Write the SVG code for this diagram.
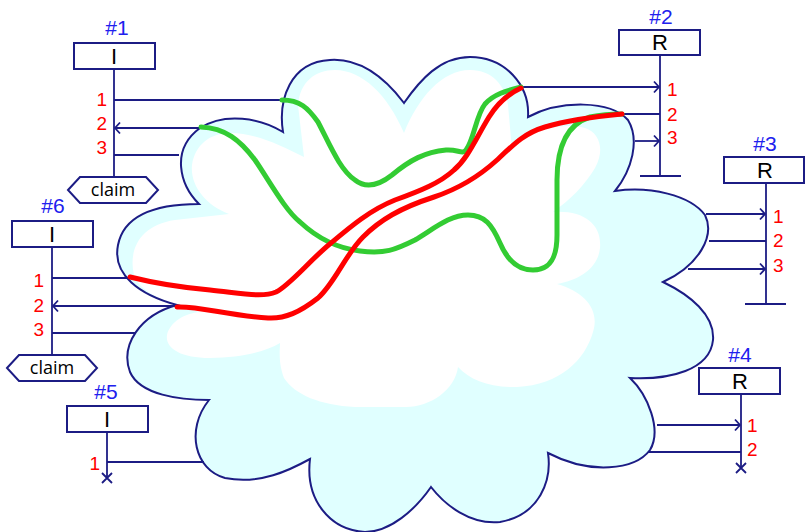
<svg xmlns="http://www.w3.org/2000/svg" width="805" height="532" viewBox="0 0 805 532">
<defs>
<style>
.ln{stroke:#1c1c84;stroke-width:1.8;fill:none}
.box{fill:#fff;stroke:#1c1c84;stroke-width:2}
.ttl{font-family:"Liberation Sans",Arial,sans-serif;font-size:21px;fill:#2020ee;text-anchor:middle}
.lt{font-family:"Liberation Sans",Arial,sans-serif;font-size:22px;fill:#000;text-anchor:middle}
.num{font-family:"Liberation Sans",Arial,sans-serif;font-size:19px;fill:#ff0000}
.cl{font-family:"Open Sans","Liberation Sans",Arial,sans-serif;font-size:18px;fill:#000;text-anchor:middle}
.red{stroke:#ff0000;stroke-width:5;fill:none;stroke-linecap:round}
.grn{stroke:#33cc33;stroke-width:5;fill:none;stroke-linecap:round}
</style>
<marker id="ar" markerUnits="userSpaceOnUse" markerWidth="12" markerHeight="14" refX="0" refY="0" viewBox="-7 -7 9 14" orient="auto" overflow="visible">
<path d="M-5,-5.5 L0,0 L-5,5.5" fill="none" stroke="#1c1c84" stroke-width="1.8"/>
</marker>
</defs>
<rect width="805" height="532" fill="#fff"/>
<g id="cloud">
<path d="M283,132 C278,100 290,62 330,60 C360,58 385,78 404,103 C420,80 440,57 470,57 C505,57 530,85 528,117 C560,100 610,100 628,120 C640,140 632,170 615,191 C650,186 690,195 705,215 C715,235 700,265 663,282 C690,295 715,315 713,340 C710,370 670,380 630,378 C648,395 662,430 650,450 C635,470 590,475 548,453 C552,480 540,515 500,522 C470,525 445,505 431,487 C415,510 390,532 365,532 C330,530 305,500 310,459 C290,470 260,485 225,478 C195,470 185,430 209,400 C180,400 140,395 130,372 C120,345 140,315 177,305 C140,295 112,275 118,245 C125,210 165,204 199,204 C180,185 170,150 200,128 C225,112 260,118 283,132 Z" fill="#e0ffff"/>
<path d="M304,157 L298,105 C300,82 315,70 335,70 C362,70 388,95 404,133 C418,98 442,70 470,70 C492,70 505,85 508,105 L512,150 C530,130 560,122 585,128 C600,133 605,150 595,168 C585,185 570,200 553,212 C585,210 602,225 600,248 C598,268 580,280 557,284 C585,292 600,310 593,332 C585,360 560,385 517,387 C490,388 470,380 458,367 C455,390 430,407 406,407 L355,407 C320,405 295,395 284,378 C278,362 280,350 280,343 C265,352 240,358 210,358 C180,358 165,348 167,335 C170,322 185,313 200,312 C175,305 140,295 134,275 C128,250 140,225 175,220 L229,214 C205,205 190,185 192,165 C195,145 210,133 230,133 C255,133 280,145 304,157 Z" fill="#fff"/>
<path d="M283,132 C278,100 290,62 330,60 C360,58 385,78 404,103 C420,80 440,57 470,57 C505,57 530,85 528,117 C560,100 610,100 628,120 C640,140 632,170 615,191 C650,186 690,195 705,215 C715,235 700,265 663,282 C690,295 715,315 713,340 C710,370 670,380 630,378 C648,395 662,430 650,450 C635,470 590,475 548,453 C552,480 540,515 500,522 C470,525 445,505 431,487 C415,510 390,532 365,532 C330,530 305,500 310,459 C290,470 260,485 225,478 C195,470 185,430 209,400 C180,400 140,395 130,372 C120,345 140,315 177,305 C140,295 112,275 118,245 C125,210 165,204 199,204 C180,185 170,150 200,128 C225,112 260,118 283,132 Z" fill="none" stroke="#1c1c84" stroke-width="2"/>
</g>
<g id="connectors">
<line class="ln" x1="114" y1="100" x2="283" y2="100"/>
<line class="ln" x1="200" y1="128" x2="115" y2="128" marker-end="url(#ar)"/>
<line class="ln" x1="114" y1="155" x2="179" y2="155"/>
<line class="ln" x1="521" y1="87" x2="659" y2="87" marker-end="url(#ar)"/>
<line class="ln" x1="622" y1="114" x2="660" y2="114"/>
<line class="ln" x1="635" y1="141" x2="659" y2="141" marker-end="url(#ar)"/>
<line class="ln" x1="706" y1="214" x2="765" y2="214" marker-end="url(#ar)"/>
<line class="ln" x1="709" y1="241" x2="766" y2="241"/>
<line class="ln" x1="688" y1="269" x2="765" y2="269" marker-end="url(#ar)"/>
<line class="ln" x1="657" y1="425" x2="740" y2="425" marker-end="url(#ar)"/>
<line class="ln" x1="648" y1="452" x2="741" y2="452"/>
<line class="ln" x1="107" y1="462" x2="204" y2="462"/>
<line class="ln" x1="52" y1="278" x2="130" y2="278"/>
<line class="ln" x1="176" y1="306" x2="53" y2="306" marker-end="url(#ar)"/>
<line class="ln" x1="52" y1="333" x2="136" y2="333"/>
<path class="grn" d="M282,100 C300,100 308,108 318,122 C330,145 340,170 355,180 C365,188 378,186 392,175 C410,160 425,152 446,150 C458,149 462,155 466,150 C474,140 476,115 485,104 C495,93 510,90 521,87"/>
<path class="grn" d="M201,127 C225,128 240,140 255,160 C270,182 285,210 300,222 C315,236 335,248 360,251 C385,254 395,250 415,240 C435,228 450,215 468,215 C485,215 492,225 500,243 C508,262 520,270 533,270 C552,270 557,255 557,235 L557,180 C557,150 565,125 590,117 C600,115 610,114 622,114"/>
<path class="red" d="M130,277 C150,282 175,287 210,290 C240,293 262,298 276,292 C290,285 310,260 331,243 C350,227 370,210 395,200 C420,191 440,183 454,170 C468,158 475,140 489,117 C497,104 508,94 521,88"/>
<path class="red" d="M177,307 C200,306 225,315 268,318 C285,319 300,312 318,298 C335,283 345,255 363,237 C380,220 400,208 434,197 C455,190 475,180 497,160 C515,143 525,133 545,127 C565,121 590,117 622,114"/>
</g>
<g id="n1">
<text class="ttl" x="117" y="35">#1</text>
<rect class="box" x="74" y="43" width="81" height="26"/>
<text class="lt" x="114" y="64">I</text>
<line class="ln" x1="114" y1="69" x2="114" y2="177"/>
<polygon class="box" points="68,190 80,177 146,177 158,190 146,203 80,203"/>
<text class="cl" x="113" y="196">claim</text>
<text class="num" x="107" y="106" text-anchor="end">1</text>
<text class="num" x="107" y="130" text-anchor="end">2</text>
<text class="num" x="107" y="154" text-anchor="end">3</text>
</g>
<g id="n2">
<text class="ttl" x="661" y="24">#2</text>
<rect class="box" x="619" y="30" width="81" height="25"/>
<text class="lt" x="660" y="50">R</text>
<line class="ln" x1="660" y1="55" x2="660" y2="176"/>
<line class="ln" x1="640" y1="176" x2="681" y2="176"/>
<text class="num" x="667" y="96">1</text>
<text class="num" x="667" y="121">2</text>
<text class="num" x="667" y="144">3</text>
</g>
<g id="n3">
<text class="ttl" x="765" y="151">#3</text>
<rect class="box" x="724" y="157" width="80" height="26"/>
<text class="lt" x="765" y="178">R</text>
<line class="ln" x1="766" y1="183" x2="766" y2="304"/>
<line class="ln" x1="745" y1="304" x2="786" y2="304"/>
<text class="num" x="773" y="223">1</text>
<text class="num" x="773" y="247">2</text>
<text class="num" x="773" y="272">3</text>
</g>
<g id="n4">
<text class="ttl" x="740" y="362">#4</text>
<rect class="box" x="699" y="368" width="81" height="26"/>
<text class="lt" x="740" y="389">R</text>
<line class="ln" x1="741" y1="394" x2="741" y2="468"/>
<path class="ln" d="M736,463 L746,473 M746,463 L736,473"/>
<text class="num" x="747" y="432">1</text>
<text class="num" x="747" y="456">2</text>
</g>
<g id="n5">
<text class="ttl" x="106" y="399">#5</text>
<rect class="box" x="67" y="406" width="81" height="26"/>
<text class="lt" x="107" y="427">I</text>
<line class="ln" x1="107" y1="432" x2="107" y2="478"/>
<path class="ln" d="M102,473 L112,483 M112,473 L102,483"/>
<text class="num" x="100" y="470" text-anchor="end">1</text>
</g>
<g id="n6">
<text class="ttl" x="53" y="213">#6</text>
<rect class="box" x="12" y="221" width="81" height="26"/>
<text class="lt" x="52" y="242">I</text>
<line class="ln" x1="52" y1="247" x2="52" y2="355"/>
<polygon class="box" points="7,368 19,355 85,355 97,368 85,381 19,381"/>
<text class="cl" x="52" y="374">claim</text>
<text class="num" x="44" y="287" text-anchor="end">1</text>
<text class="num" x="44" y="312" text-anchor="end">2</text>
<text class="num" x="44" y="336" text-anchor="end">3</text>
</g>
</svg>
